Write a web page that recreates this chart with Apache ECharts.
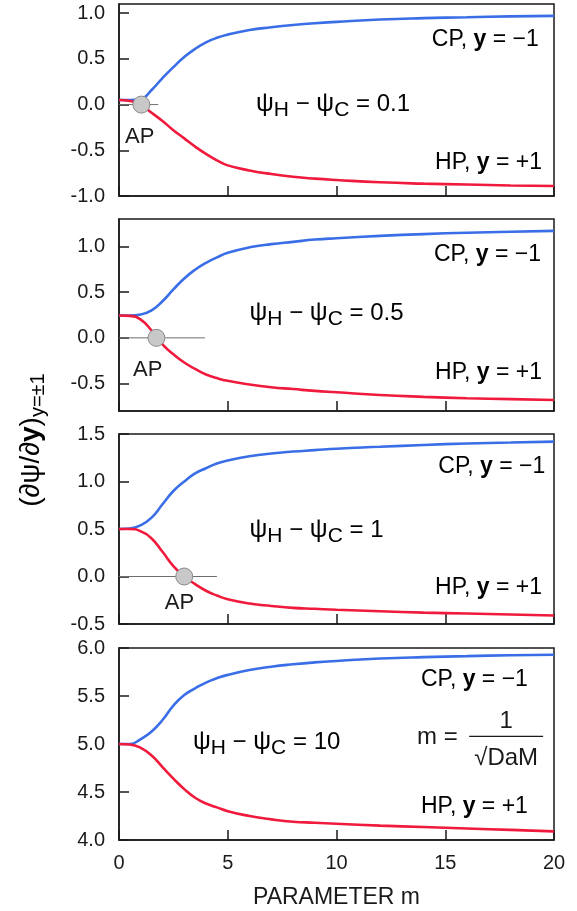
<!DOCTYPE html>
<html>
<head>
<meta charset="utf-8">
<script src="https://cdn.jsdelivr.net/npm/echarts@6/dist/echarts.min.js"></script>
<style>
  html, body { margin: 0; padding: 0; background: #fff; }
  #chart { width: 577px; height: 911px; }
</style>
</head>
<body>
<div id="chart"></div>
<script>
// Shared abscissa: parameter m
const mValues = [0, 0.5, 1, 1.5, 2, 2.5, 3, 3.5, 4, 4.5, 5, 6, 7, 8, 9, 10, 12, 14, 16, 18, 20];

// Wall derivative (dpsi/dy) at y = -1 (cold plate, CP) and y = +1 (hot plate, HP)
const cpDelta01 = [0.05, 0.05, 0.06, 0.16, 0.29, 0.41, 0.52, 0.61, 0.68, 0.73, 0.765, 0.815, 0.845, 0.87, 0.89, 0.905, 0.93, 0.945, 0.955, 0.965, 0.97];
const hpDelta01 = [0.05, 0.04, 0.0, -0.09, -0.18, -0.28, -0.37, -0.46, -0.54, -0.61, -0.665, -0.72, -0.76, -0.79, -0.81, -0.825, -0.85, -0.865, -0.875, -0.885, -0.89];

const cpDelta05 = [0.245, 0.245, 0.255, 0.30, 0.40, 0.53, 0.65, 0.745, 0.82, 0.88, 0.93, 0.99, 1.025, 1.05, 1.075, 1.09, 1.115, 1.135, 1.15, 1.16, 1.17];
const hpDelta05 = [0.245, 0.24, 0.20, 0.08, -0.07, -0.18, -0.27, -0.34, -0.40, -0.44, -0.47, -0.51, -0.54, -0.56, -0.58, -0.595, -0.625, -0.645, -0.66, -0.67, -0.68];

const cpDelta1 = [0.5, 0.505, 0.54, 0.62, 0.76, 0.90, 1.0, 1.085, 1.14, 1.19, 1.22, 1.265, 1.295, 1.315, 1.33, 1.345, 1.365, 1.385, 1.40, 1.41, 1.42];
const hpDelta1 = [0.5, 0.5, 0.475, 0.40, 0.26, 0.11, 0.0, -0.08, -0.15, -0.20, -0.24, -0.285, -0.31, -0.33, -0.34, -0.35, -0.365, -0.38, -0.39, -0.40, -0.41];

const cpDelta10 = [5.0, 5.0, 5.05, 5.13, 5.25, 5.40, 5.51, 5.58, 5.64, 5.685, 5.72, 5.77, 5.805, 5.83, 5.85, 5.865, 5.89, 5.905, 5.915, 5.925, 5.93];
const hpDelta10 = [5.0, 4.995, 4.96, 4.88, 4.76, 4.64, 4.53, 4.44, 4.38, 4.34, 4.30, 4.25, 4.215, 4.19, 4.18, 4.17, 4.15, 4.135, 4.12, 4.105, 4.09];

// Point where the hot-plate derivative vanishes (AP) and its reference line extent
const apM = [1.03, 1.72, 3.0];
const apLineEnd = [1.8, 3.95, 4.5];

// Axis ranges and tick labels per panel
const yMin = [-1.0, -0.8, -0.5, 4.0];
const yMax = [1.1, 1.3, 1.5, 6.0];
const yTicks = [
  [-1.0, -0.5, 0.0, 0.5, 1.0],
  [-0.5, 0.0, 0.5, 1.0],
  [-0.5, 0.0, 0.5, 1.0, 1.5],
  [4.0, 4.5, 5.0, 5.5, 6.0]
];
const xTicks = [0, 5, 10, 15, 20];
const deltaLabels = ['0.1', '0.5', '1', '10'];

const cpSeries = [cpDelta01, cpDelta05, cpDelta1, cpDelta10];
const hpSeries = [hpDelta01, hpDelta05, hpDelta1, hpDelta10];

const FONT = '"Liberation Sans", Arial, sans-serif';
const INK = '#1a1a1a';
const BLUE = '#3a6ee6';
const RED = '#f01a3c';

const gridTops = [4, 219, 434, 648];
const gridHeights = [192, 192, 190, 192];

const chart = echarts.init(document.getElementById('chart'), null, { renderer: 'canvas' });

const grids = [], xAxes = [], yAxes = [], series = [];
for (let i = 0; i < 4; i++) {
  grids.push({
    left: 119, right: 23, top: gridTops[i], height: gridHeights[i],
    show: true, borderColor: INK, borderWidth: 1.5, backgroundColor: 'transparent'
  });
  const last = i === 3;
  xAxes.push({
    gridIndex: i, type: 'value', min: 0, max: 20, interval: 5,
    axisLine: { show: true, onZero: false, lineStyle: { color: INK, width: 1.5 } },
    axisTick: { show: true, inside: true, length: 10, customValues: xTicks, lineStyle: { color: INK, width: 1.5 } },
    axisLabel: { show: last, customValues: xTicks, fontSize: 20, fontFamily: FONT, color: INK, margin: 13 },
    splitLine: { show: false },
    name: last ? 'PARAMETER m' : '',
    nameLocation: 'middle', nameGap: 46,
    nameTextStyle: { fontSize: 23, fontFamily: FONT, color: INK }
  });
  yAxes.push({
    gridIndex: i, type: 'value', min: yMin[i], max: yMax[i],
    axisLine: { show: true, onZero: false, lineStyle: { color: INK, width: 1.5 } },
    axisTick: { show: true, inside: true, length: 10, customValues: yTicks[i], lineStyle: { color: INK, width: 1.5 } },
    axisLabel: {
      customValues: yTicks[i], fontSize: 20, fontFamily: FONT, color: INK, margin: 14,
      formatter: v => v.toFixed(1)
    },
    splitLine: { show: false }
  });

  const cp = mValues.map((m, k) => [m, cpSeries[i][k]]);
  const hp = mValues.map((m, k) => [m, hpSeries[i][k]]);

  if (i < 3) {
    series.push({
      type: 'line', xAxisIndex: i, yAxisIndex: i, symbol: 'none', silent: true,
      lineStyle: { color: '#6e6e6e', width: 1 }, z: 1,
      data: [[0, 0], [apLineEnd[i], 0]]
    });
  }
  series.push({
    type: 'line', xAxisIndex: i, yAxisIndex: i, symbol: 'none', smooth: 0.5,
    lineStyle: { color: BLUE, width: 2.6 }, z: 3, data: cp
  });
  series.push({
    type: 'line', xAxisIndex: i, yAxisIndex: i, symbol: 'none', smooth: 0.5,
    lineStyle: { color: RED, width: 2.6 }, z: 3, data: hp
  });
  if (i < 3) {
    series.push({
      type: 'scatter', xAxisIndex: i, yAxisIndex: i, symbol: 'circle', symbolSize: 17,
      itemStyle: { color: '#c8c8c8', borderColor: '#8a8a8a', borderWidth: 1, opacity: 1 },
      z: 5, data: [[apM[i], 0]]
    });
  }
}

chart.setOption({
  animation: false,
  backgroundColor: '#fff',
  grid: grids, xAxis: xAxes, yAxis: yAxes, series: series
});

// Annotation anchors in data units: [m, value]
const cpLabelAt = [[19.3, 0.71], [19.4, 0.91], [19.6, 1.16], [18.8, 5.67]];
const hpLabelAt = [[19.45, -0.64], [19.45, -0.38], [19.45, -0.12], [18.8, 4.35]];
const deltaLabelAt = [[6.3, 0.0], [6.0, 0.27], [6.0, 0.49], [3.4, 5.02]];
const apLabelAt = [[0.95, -0.355], [1.32, -0.35], [2.78, -0.276]];

const px = (i, p) => chart.convertToPixel({ gridIndex: i }, p);

const textRich = {
  n: { fontSize: 23, fontFamily: FONT, color: INK },
  b: { fontSize: 23, fontFamily: FONT, color: INK, fontWeight: 'bold' },
  d: { fontSize: 24, fontFamily: FONT, color: INK },
  p: { fontSize: 25, fontFamily: FONT, color: INK },
  s: { fontSize: 21, fontFamily: FONT, color: INK, padding: [12, 0, 0, 0] }
};

const graphics = [];
for (let i = 0; i < 4; i++) {
  let q = px(i, cpLabelAt[i]);
  graphics.push({ type: 'text', x: q[0], y: q[1], style: {
    text: '{n|CP, }{b|y}{n| = \u22121}', rich: textRich, align: 'right', verticalAlign: 'middle',
    textAlign: 'right', textVerticalAlign: 'middle' } });
  q = px(i, hpLabelAt[i]);
  graphics.push({ type: 'text', x: q[0], y: q[1], style: {
    text: '{n|HP, }{b|y}{n| = +1}', rich: textRich, align: 'right', verticalAlign: 'middle',
    textAlign: 'right', textVerticalAlign: 'middle' } });
  q = px(i, deltaLabelAt[i]);
  graphics.push({ type: 'text', x: q[0], y: q[1], style: {
    text: '{p|\u03c8}{s|H}{d| \u2212 }{p|\u03c8}{s|C}{d| = ' + deltaLabels[i] + '}', rich: textRich,
    align: 'left', verticalAlign: 'middle', textAlign: 'left', textVerticalAlign: 'middle' } });
  if (i < 3) {
    q = px(i, apLabelAt[i]);
    graphics.push({ type: 'text', x: q[0], y: q[1], style: {
      text: 'AP', fontSize: 22, fontFamily: FONT, fill: INK, align: 'center', verticalAlign: 'middle',
      textAlign: 'center', textVerticalAlign: 'middle' } });
  }
}

// Definition of the parameter m in the bottom panel
const mEqAt = px(3, [13.7, 5.07]);
const numAt = px(3, [17.8, 5.24]);
const barL = px(3, [16.1, 5.08]);
const barR = px(3, [19.5, 5.08]);
const denAt = px(3, [17.8, 4.85]);
graphics.push({ type: 'text', x: mEqAt[0], y: mEqAt[1], style: {
  text: 'm =', fontSize: 24, fontFamily: FONT, fill: INK, align: 'left', verticalAlign: 'middle',
  textAlign: 'left', textVerticalAlign: 'middle' } });
graphics.push({ type: 'text', x: numAt[0], y: numAt[1], style: {
  text: '1', fontSize: 24, fontFamily: FONT, fill: INK, align: 'center', verticalAlign: 'middle',
  textAlign: 'center', textVerticalAlign: 'middle' } });
graphics.push({ type: 'line', shape: { x1: barL[0], y1: barL[1], x2: barR[0], y2: barR[1] },
  style: { stroke: INK, lineWidth: 1.3 } });
graphics.push({ type: 'text', x: denAt[0], y: denAt[1], style: {
  text: '\u221aDaM', fontSize: 24, fontFamily: FONT, fill: INK, align: 'center', verticalAlign: 'middle',
  textAlign: 'center', textVerticalAlign: 'middle' } });

// Shared ordinate title
graphics.push({ type: 'text', x: 31, y: 440, rotation: Math.PI / 2, style: {
  text: '{a|(\u2202\u03c8/\u2202}{ab|y}{a|)}{s|y=\u00b11}',
  rich: {
    a: { fontSize: 28, fontFamily: FONT, color: INK },
    ab: { fontSize: 28, fontFamily: FONT, color: INK, fontWeight: 'bold' },
    s: { fontSize: 20, fontFamily: FONT, color: INK, padding: [15, 0, 0, 0] }
  },
  align: 'center', verticalAlign: 'middle', textAlign: 'center', textVerticalAlign: 'middle' } });

chart.setOption({ graphic: graphics });
</script>
</body>
</html>
